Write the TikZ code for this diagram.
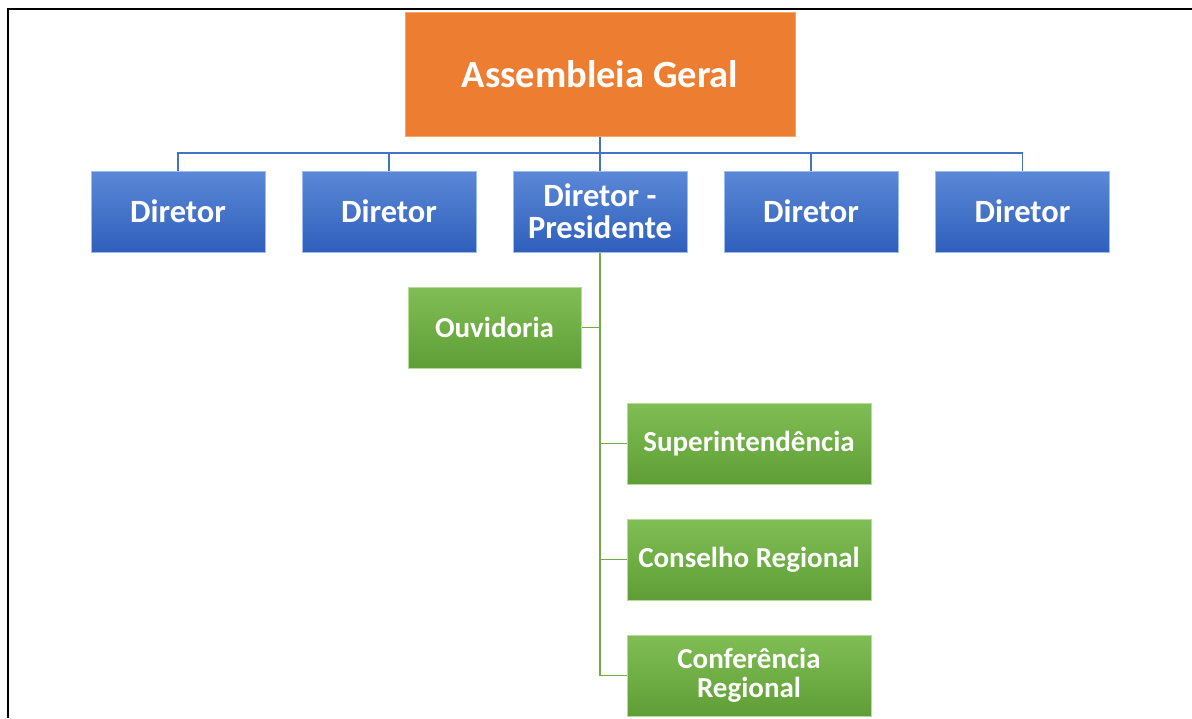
\documentclass[tikz,border=0pt]{standalone}
\usepackage{fontspec}
\setmainfont{Carlito}
\usetikzlibrary{positioning}

\definecolor{agfill}{HTML}{ED7D31}
\definecolor{agedge}{HTML}{F6A66B}
\definecolor{dirtop}{HTML}{5B88D6}
\definecolor{dirbot}{HTML}{2F5FBC}
\definecolor{diredge}{HTML}{9DBDF0}
\definecolor{unittop}{HTML}{80BD55}
\definecolor{unitbot}{HTML}{5F9E36}
\definecolor{unitedge}{HTML}{B5DC98}
\definecolor{bluelink}{HTML}{4472C4}
\definecolor{greenlink}{HTML}{70AD47}

\tikzset{
  boxbase/.style={inner sep=0pt, align=center, text=white, line width=1pt},
  topbox/.style={boxbase, fill=agfill, draw=agedge, minimum width=390pt,
    minimum height=124pt, font=\bfseries\fontsize{38.5}{40}\selectfont},
  dirbox/.style={boxbase, top color=dirtop, bottom color=dirbot, draw=diredge,
    minimum width=174pt, minimum height=81pt, font=\bfseries\fontsize{32.5}{32}\selectfont},
  unitbox/.style={boxbase, top color=unittop, bottom color=unitbot, draw=unitedge,
    minimum width=244pt, minimum height=81pt, font=\bfseries\fontsize{29}{29}\selectfont},
  bluewire/.style={draw=bluelink, line width=1.6pt},
  greenwire/.style={draw=greenlink, line width=1.6pt}
}

\begin{document}
\begin{tikzpicture}[x=1pt,y=-1pt]
\useasboundingbox (0,0) rectangle (1192,718);
% frame
\draw[line width=1.5pt] (8,718) -- (8,9) -- (1192,9);

% top
\node[topbox] (ag) at (600,74) {Assembleia Geral};
\coordinate (bus) at (600,153);

% directors
\node[dirbox] (dp) at (600,211.5) {Diretor -\\Presidente};
\draw[bluewire] (ag.south) -- (dp.north);
\foreach \i/\x in {1/178,2/389,4/811,5/1022.5}
    {\node[dirbox] (d\i) at (\x,211.5) {Diretor};
    \draw[bluewire] (bus) -| (d\i.north);}

% units under the president
\node[unitbox, minimum width=173pt] (ouv) at (494.5,327.5) {Ouvidoria};
\node[unitbox] (sup) at (749,443.5) {Superintendência};
\node[unitbox] (cons) at (749,559.5) {Conselho Regional};
\node[unitbox] (conf) at (749,675.5) {Conferência\\Regional};
\draw[greenwire] (dp.south) |- (ouv.east);
\foreach \u in {sup,cons,conf}
    \draw[greenwire] (dp.south) |- (\u.west);
\end{tikzpicture}
\end{document}
